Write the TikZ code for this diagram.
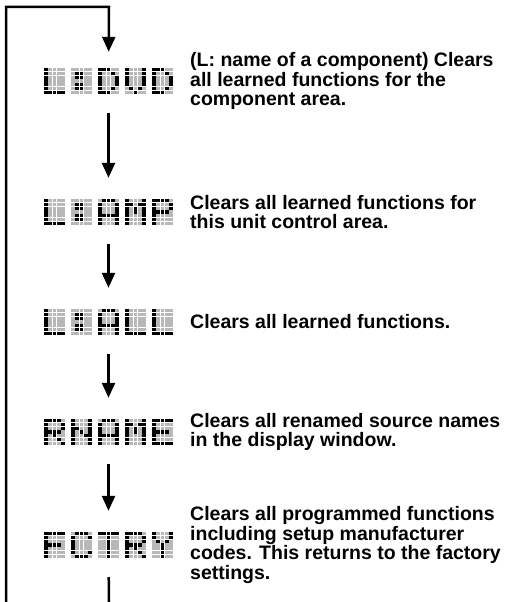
\documentclass[tikz,border=0pt]{standalone}
\usepackage{fontspec}
\setmainfont{Liberation Sans}
\usetikzlibrary{arrows.meta}
\definecolor{dmoff}{gray}{0.72}
\newcount\dmcol
\newcount\dmrow
\def\dmcw{4.4}
\def\dmch{3.714}
\def\dmcell#1{\ifnum#1=1 \def\dmc{black}\else\def\dmc{dmoff}\fi
  \fill[\dmc] (\dmx+\the\dmcol*\dmcw+0.3, \dmy+\the\dmrow*\dmch+0.3) rectangle ++(\dmcw-0.6,\dmch-0.6);}
\def\dmrowp#1{\ifx#1\relax\else\dmcell{#1}\advance\dmcol by 1 \expandafter\dmrowp\fi}
\def\dmline#1{\dmcol=0 \dmrowp#1\relax\advance\dmrow by 1 }
\newcommand\dmchar[9]{\def\dmx{#1}\def\dmy{#2}\dmrow=0 \dmline{#3}\dmline{#4}\dmline{#5}\dmline{#6}\dmline{#7}\dmline{#8}\dmline{#9}}
\newcommand\dmkL[2]{\dmchar{#1}{#2}{10000}{10000}{10000}{10000}{10000}{10000}{11111}}
\newcommand\dmkColon[2]{\dmchar{#1}{#2}{00000}{01100}{01100}{00000}{01100}{01100}{00000}}
\newcommand\dmkD[2]{\dmchar{#1}{#2}{11100}{10010}{10001}{10001}{10001}{10010}{11100}}
\newcommand\dmkV[2]{\dmchar{#1}{#2}{10001}{10001}{10001}{10001}{10001}{01010}{00100}}
\newcommand\dmkA[2]{\dmchar{#1}{#2}{01110}{10001}{10001}{10001}{11111}{10001}{10001}}
\newcommand\dmkM[2]{\dmchar{#1}{#2}{10001}{11011}{10101}{10101}{10001}{10001}{10001}}
\newcommand\dmkP[2]{\dmchar{#1}{#2}{11110}{10001}{10001}{11110}{10000}{10000}{10000}}
\newcommand\dmkR[2]{\dmchar{#1}{#2}{11110}{10001}{10001}{11110}{10100}{10010}{10001}}
\newcommand\dmkN[2]{\dmchar{#1}{#2}{10001}{10001}{11001}{10101}{10011}{10001}{10001}}
\newcommand\dmkE[2]{\dmchar{#1}{#2}{11111}{10000}{10000}{11110}{10000}{10000}{11111}}
\newcommand\dmkF[2]{\dmchar{#1}{#2}{11111}{10000}{10000}{11110}{10000}{10000}{10000}}
\newcommand\dmkC[2]{\dmchar{#1}{#2}{01110}{10001}{10000}{10000}{10000}{10001}{01110}}
\newcommand\dmkT[2]{\dmchar{#1}{#2}{11111}{00100}{00100}{00100}{00100}{00100}{00100}}
\newcommand\dmkY[2]{\dmchar{#1}{#2}{10001}{10001}{01010}{00100}{00100}{00100}{00100}}
\newcommand\dmfive[6]{#2{43.5}{#1}#3{70.5}{#1}#4{97.5}{#1}#5{124.5}{#1}#6{151.5}{#1}}
\begin{document}
\begin{tikzpicture}[x=1pt,y=-1pt,
  desc/.style={anchor=west, align=left, inner sep=0pt, font=\bfseries\fontsize{19.5}{19.6}\selectfont},
  disp/.style={minimum width=131pt, minimum height=26pt, inner sep=0pt},
  flow/.style={line width=2.5pt, line join=miter},
  arr/.style={flow, -{Triangle[width=13pt,length=15pt]}}]
\useasboundingbox (0,0) rectangle (508,602);
\fill[white] (0,0) rectangle (508,602);
% displays
\node[disp] (d1) at (108.5,81) {};
\node[disp] (d2) at (108.5,212) {};
\node[disp] (d3) at (108.5,322) {};
\node[disp] (d4) at (108.5,432) {};
\node[disp] (d5) at (108.5,545) {};
\dmfive{68}{\dmkL}{\dmkColon}{\dmkD}{\dmkV}{\dmkD}
\dmfive{199}{\dmkL}{\dmkColon}{\dmkA}{\dmkM}{\dmkP}
\dmfive{309}{\dmkL}{\dmkColon}{\dmkA}{\dmkL}{\dmkL}
\dmfive{419}{\dmkR}{\dmkN}{\dmkA}{\dmkM}{\dmkE}
\dmfive{532}{\dmkF}{\dmkC}{\dmkT}{\dmkR}{\dmkY}
% texts
\node[desc] (t1) at (190,81) {(L: name of a component) Clears\\all learned functions for the\\component area.};
\node[desc] (t2) at (190,212) {Clears all learned functions for\\this unit control area.};
\node[desc] (t3) at (190,322) {Clears all learned functions.};
\node[desc] (t4) at (190,432) {Clears all renamed source names\\in the display window.};
\node[desc] (t5) at (190,545) {Clears all programmed functions\\including setup manufacturer\\codes. This returns to the factory\\settings.};
% connectors
\coordinate (lb) at (6,602);
\coordinate (lt) at (6,7);
\coordinate (tr) at (109,7);
\coordinate (bb) at (109,602);
\draw[arr, shorten >=16pt] (lb) -- (lt) -- (tr) -- (d1.north);
\draw[arr, shorten <=19pt, shorten >=21pt] (d1.south) -- (d2.north);
\draw[arr, shorten <=19pt, shorten >=21pt] (d2.south) -- (d3.north);
\draw[arr, shorten <=19pt, shorten >=21pt] (d3.south) -- (d4.north);
\draw[arr, shorten <=19pt, shorten >=21pt] (d4.south) -- (d5.north);
\draw[flow, shorten <=19pt] (d5.south) -- (bb);
\end{tikzpicture}
\end{document}
